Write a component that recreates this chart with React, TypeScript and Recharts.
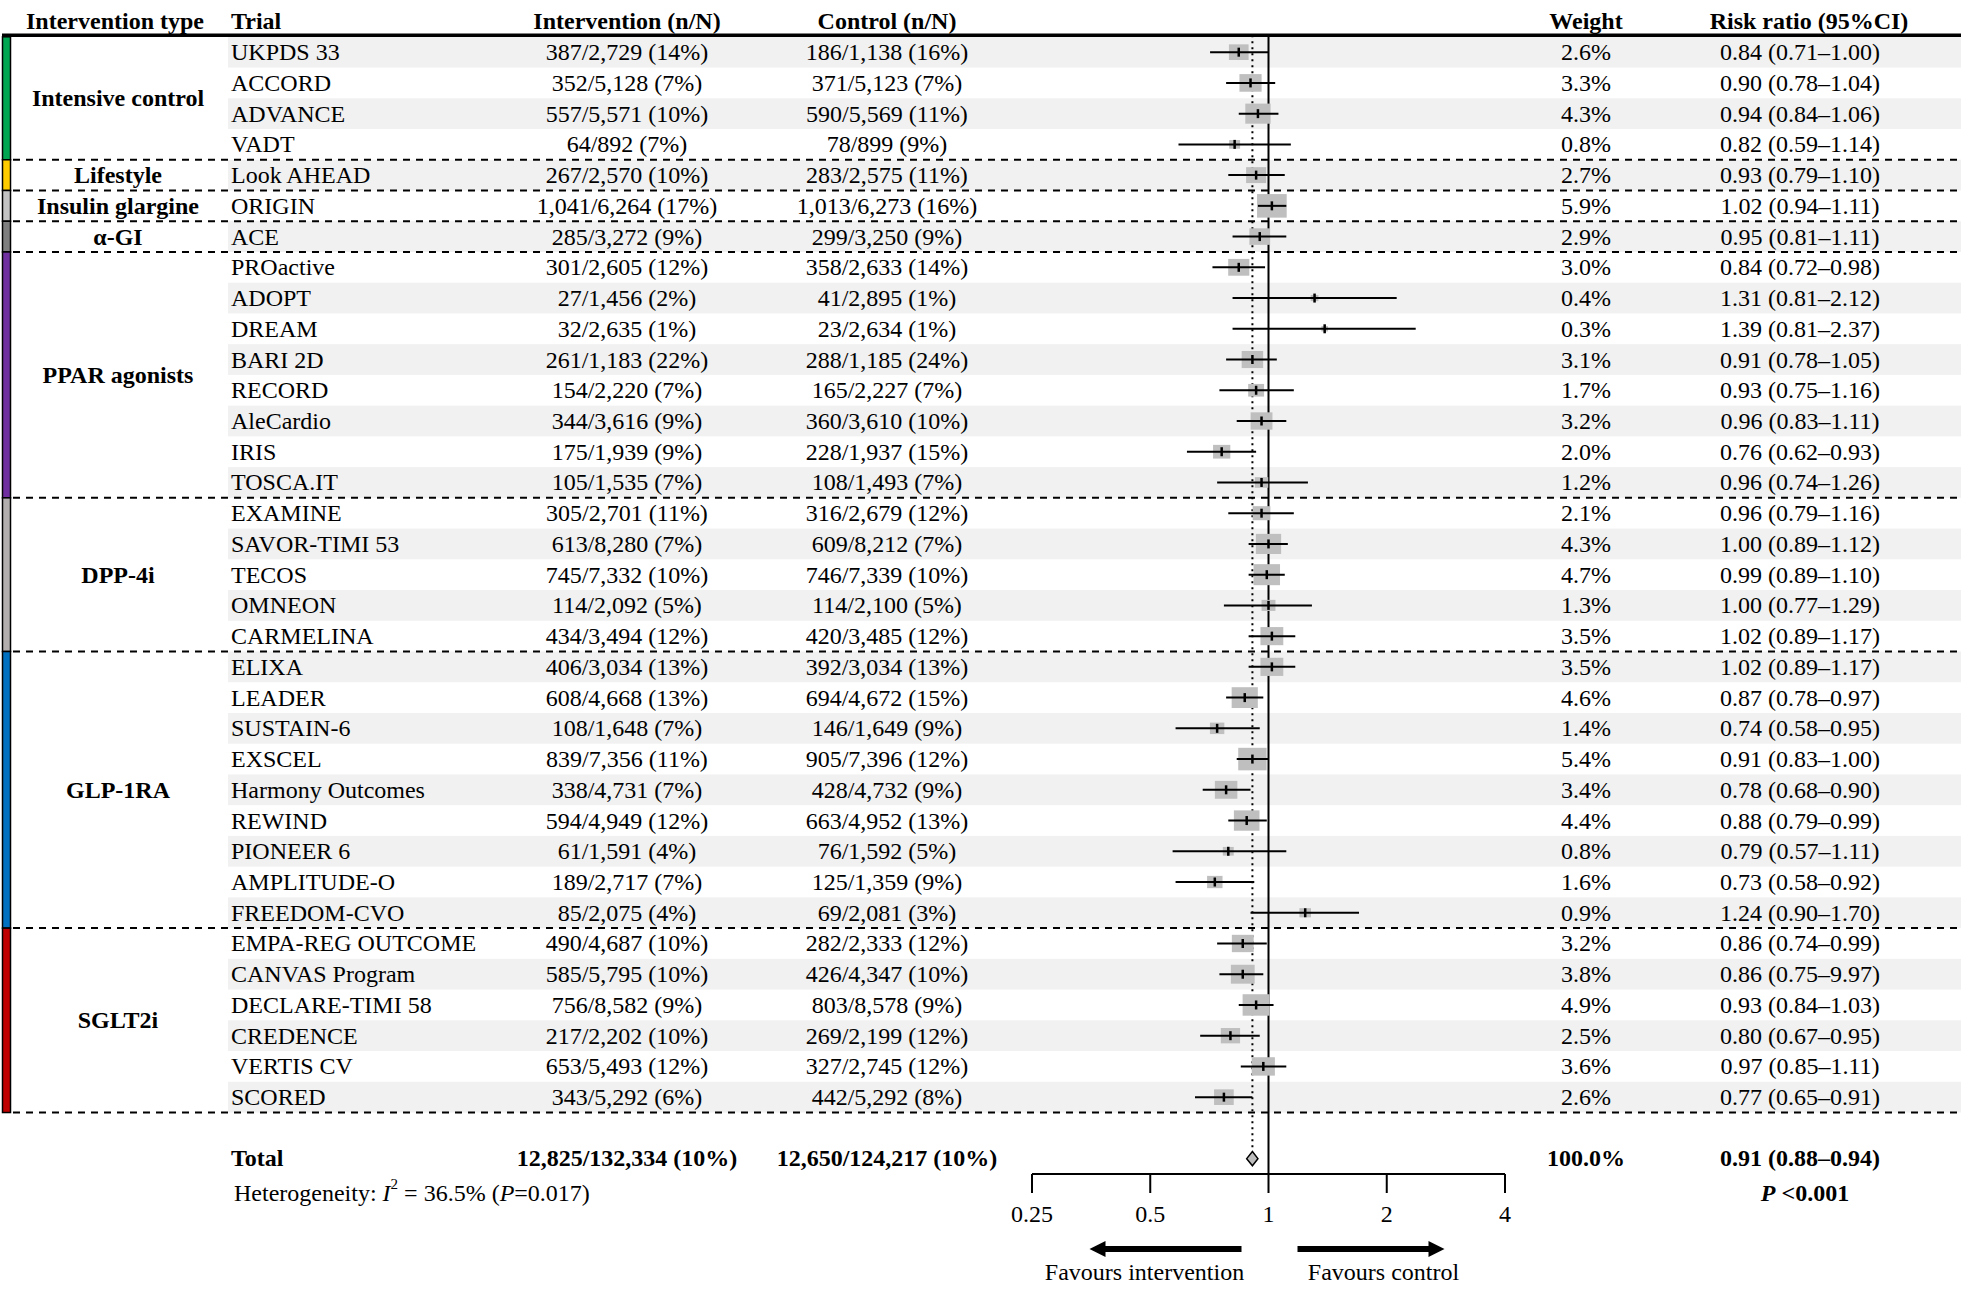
import React from 'react';
import { ComposedChart, Scatter, XAxis, YAxis } from 'recharts';

const FONT = '"Liberation Serif", "Times New Roman", serif';
const W = 1961;
const H = 1303;

const groups = ['Intensive control', 'Lifestyle', 'Insulin glargine', 'α-GI', 'PPAR agonists', 'DPP-4i', 'GLP-1RA', 'SGLT2i'];
const groupSizes = [4, 1, 1, 1, 8, 5, 9, 6];
const groupColors = ['#00a651', '#ffcc00', '#c3c3c3', '#7f7f7f', '#7030a0', '#b3afaf', '#0070c0', '#c00000'];

const trials = [
  'UKPDS 33', 'ACCORD', 'ADVANCE', 'VADT', 'Look AHEAD', 'ORIGIN', 'ACE',
  'PROactive', 'ADOPT', 'DREAM', 'BARI 2D', 'RECORD', 'AleCardio', 'IRIS', 'TOSCA.IT',
  'EXAMINE', 'SAVOR-TIMI 53', 'TECOS', 'OMNEON', 'CARMELINA',
  'ELIXA', 'LEADER', 'SUSTAIN-6', 'EXSCEL', 'Harmony Outcomes', 'REWIND', 'PIONEER 6', 'AMPLITUDE-O', 'FREEDOM-CVO',
  'EMPA-REG OUTCOME', 'CANVAS Program', 'DECLARE-TIMI 58', 'CREDENCE', 'VERTIS CV', 'SCORED',
];
const interventionN = [
  '387/2,729 (14%)', '352/5,128 (7%)', '557/5,571 (10%)', '64/892 (7%)', '267/2,570 (10%)', '1,041/6,264 (17%)', '285/3,272 (9%)',
  '301/2,605 (12%)', '27/1,456 (2%)', '32/2,635 (1%)', '261/1,183 (22%)', '154/2,220 (7%)', '344/3,616 (9%)', '175/1,939 (9%)', '105/1,535 (7%)',
  '305/2,701 (11%)', '613/8,280 (7%)', '745/7,332 (10%)', '114/2,092 (5%)', '434/3,494 (12%)',
  '406/3,034 (13%)', '608/4,668 (13%)', '108/1,648 (7%)', '839/7,356 (11%)', '338/4,731 (7%)', '594/4,949 (12%)', '61/1,591 (4%)', '189/2,717 (7%)', '85/2,075 (4%)',
  '490/4,687 (10%)', '585/5,795 (10%)', '756/8,582 (9%)', '217/2,202 (10%)', '653/5,493 (12%)', '343/5,292 (6%)',
];
const controlN = [
  '186/1,138 (16%)', '371/5,123 (7%)', '590/5,569 (11%)', '78/899 (9%)', '283/2,575 (11%)', '1,013/6,273 (16%)', '299/3,250 (9%)',
  '358/2,633 (14%)', '41/2,895 (1%)', '23/2,634 (1%)', '288/1,185 (24%)', '165/2,227 (7%)', '360/3,610 (10%)', '228/1,937 (15%)', '108/1,493 (7%)',
  '316/2,679 (12%)', '609/8,212 (7%)', '746/7,339 (10%)', '114/2,100 (5%)', '420/3,485 (12%)',
  '392/3,034 (13%)', '694/4,672 (15%)', '146/1,649 (9%)', '905/7,396 (12%)', '428/4,732 (9%)', '663/4,952 (13%)', '76/1,592 (5%)', '125/1,359 (9%)', '69/2,081 (3%)',
  '282/2,333 (12%)', '426/4,347 (10%)', '803/8,578 (9%)', '269/2,199 (12%)', '327/2,745 (12%)', '442/5,292 (8%)',
];
const weights = [
  2.6, 3.3, 4.3, 0.8, 2.7, 5.9, 2.9,
  3.0, 0.4, 0.3, 3.1, 1.7, 3.2, 2.0, 1.2,
  2.1, 4.3, 4.7, 1.3, 3.5,
  3.5, 4.6, 1.4, 5.4, 3.4, 4.4, 0.8, 1.6, 0.9,
  3.2, 3.8, 4.9, 2.5, 3.6, 2.6,
];
const riskRatio = [
  0.84, 0.90, 0.94, 0.82, 0.93, 1.02, 0.95,
  0.84, 1.31, 1.39, 0.91, 0.93, 0.96, 0.76, 0.96,
  0.96, 1.00, 0.99, 1.00, 1.02,
  1.02, 0.87, 0.74, 0.91, 0.78, 0.88, 0.79, 0.73, 1.24,
  0.86, 0.86, 0.93, 0.80, 0.97, 0.77,
];
const ciLow = [
  0.71, 0.78, 0.84, 0.59, 0.79, 0.94, 0.81,
  0.72, 0.81, 0.81, 0.78, 0.75, 0.83, 0.62, 0.74,
  0.79, 0.89, 0.89, 0.77, 0.89,
  0.89, 0.78, 0.58, 0.83, 0.68, 0.79, 0.57, 0.58, 0.90,
  0.74, 0.75, 0.84, 0.67, 0.85, 0.65,
];
// CANVAS is printed as 9.97 in the source table, but plotted ending just below 1
const ciHigh = [
  1.00, 1.04, 1.06, 1.14, 1.10, 1.11, 1.11,
  0.98, 2.12, 2.37, 1.05, 1.16, 1.11, 0.93, 1.26,
  1.16, 1.12, 1.10, 1.29, 1.17,
  1.17, 0.97, 0.95, 1.00, 0.90, 0.99, 1.11, 0.92, 1.70,
  0.99, 0.97, 1.03, 0.95, 1.11, 0.91,
];
const rrLabels = [
  '0.84 (0.71–1.00)', '0.90 (0.78–1.04)', '0.94 (0.84–1.06)', '0.82 (0.59–1.14)', '0.93 (0.79–1.10)', '1.02 (0.94–1.11)', '0.95 (0.81–1.11)',
  '0.84 (0.72–0.98)', '1.31 (0.81–2.12)', '1.39 (0.81–2.37)', '0.91 (0.78–1.05)', '0.93 (0.75–1.16)', '0.96 (0.83–1.11)', '0.76 (0.62–0.93)', '0.96 (0.74–1.26)',
  '0.96 (0.79–1.16)', '1.00 (0.89–1.12)', '0.99 (0.89–1.10)', '1.00 (0.77–1.29)', '1.02 (0.89–1.17)',
  '1.02 (0.89–1.17)', '0.87 (0.78–0.97)', '0.74 (0.58–0.95)', '0.91 (0.83–1.00)', '0.78 (0.68–0.90)', '0.88 (0.79–0.99)', '0.79 (0.57–1.11)', '0.73 (0.58–0.92)', '1.24 (0.90–1.70)',
  '0.86 (0.74–0.99)', '0.86 (0.75–9.97)', '0.93 (0.84–1.03)', '0.80 (0.67–0.95)', '0.97 (0.85–1.11)', '0.77 (0.65–0.91)',
];

const totalLabels = ['Total', '12,825/132,334 (10%)', '12,650/124,217 (10%)', '100.0%', '0.91 (0.88–0.94)'];
const totalRR = 0.91;
const totalLow = 0.88;
const totalHigh = 0.94;
const headers = ['Intervention type', 'Trial', 'Intervention (n/N)', 'Control (n/N)', 'Weight', 'Risk ratio (95%CI)'];
const xTicks = [0.25, 0.5, 1, 2, 4];

// column anchors (px)
const COL_GROUP = 118;
const COL_TRIAL = 231;
const COL_INT = 627;
const COL_CTRL = 887;
const COL_W = 1586;
const COL_RR = 1800;
const STRIPE_LEFT = 228;

const TOTAL_ROW = trials.length + 1;
const HEADER_ROW = -1;
const TOP_RULE = -0.55;

const rows = trials.map((t, i) => ({
  x: riskRatio[i],
  y: i,
  trial: t,
  inter: interventionN[i],
  ctrl: controlN[i],
  w: weights[i],
  rrText: rrLabels[i],
}));

// CI endpoints, two points per trial
const ciData = trials.flatMap((_, i) => [
  { x: ciLow[i], y: i },
  { x: ciHigh[i], y: i },
]);

const groupStarts: number[] = [];
groupSizes.reduce((acc, n) => {
  groupStarts.push(acc);
  return acc + n;
}, 0);

const groupLabelData = groups.map((g, k) => ({ x: 1, y: groupStarts[k] + (groupSizes[k] - 1) / 2, name: g }));
const groupBarData = groupSizes.flatMap((n, k) => [
  { x: 1, y: groupStarts[k] - 0.5 },
  { x: 1, y: groupStarts[k] + n - 0.5 },
]);
const stripeData = trials
  .map((_, i) => i)
  .filter((i) => i % 2 === 0)
  .flatMap((i) => [{ x: 1, y: i - 0.5 }, { x: 1, y: i + 0.5 }]);
const separatorData = [
  { x: 1, y: TOP_RULE, solid: true },
  ...groupSizes.map((n, k) => ({ x: 1, y: groupStarts[k] + n - 0.5, solid: false })),
];
const nullLine = [{ x: 1, y: TOP_RULE }, { x: 1, y: TOTAL_ROW + 0.5 }];
const pooledLine = [{ x: totalRR, y: TOP_RULE }, { x: totalRR, y: TOTAL_ROW - 0.24 }];
const diamondData = [
  { x: totalLow, y: TOTAL_ROW },
  { x: totalRR, y: TOTAL_ROW - 0.23 },
  { x: totalHigh, y: TOTAL_ROW },
  { x: totalRR, y: TOTAL_ROW + 0.23 },
];

const empty = () => <g />;

const txt = { fontFamily: FONT, fontSize: 24, fill: '#000' };

function Stripes(p: any) {
  const pts = p.points || [];
  const out = [];
  for (let k = 0; k + 1 < pts.length; k += 2) {
    out.push(
      <rect key={k} x={STRIPE_LEFT} y={pts[k].y} width={W - STRIPE_LEFT} height={pts[k + 1].y - pts[k].y} fill='#f1f1f1' />
    );
  }
  return <g>{out}</g>;
}

function GroupBars(p: any) {
  const pts = p.points || [];
  const out = [];
  for (let k = 0; k + 1 < pts.length; k += 2) {
    out.push(
      <rect key={k} x={2.5} y={pts[k].y} width={8} height={pts[k + 1].y - pts[k].y} fill={groupColors[k / 2]} stroke='#000' strokeWidth={1.5} />
    );
  }
  return <g>{out}</g>;
}

function CiSegments(p: any) {
  const pts = p.points || [];
  const out = [];
  for (let k = 0; k + 1 < pts.length; k += 2) {
    out.push(
      <line key={k} x1={pts[k].x} x2={pts[k + 1].x} y1={pts[k].y} y2={pts[k + 1].y} stroke='#000' strokeWidth={2} />
    );
  }
  return <g>{out}</g>;
}

function Diamond(p: any) {
  const pts = p.points || [];
  return <polygon points={pts.map((q: any) => `${q.x},${q.y}`).join(' ')} fill='#bdbdbd' stroke='#000' strokeWidth={1.5} />;
}

function Separator(p: any) {
  const solid = p.payload && p.payload.solid;
  return solid ? (
    <line x1={2} x2={W} y1={p.cy} y2={p.cy} stroke='#000' strokeWidth={3.5} />
  ) : (
    <line x1={13} x2={W} y1={p.cy} y2={p.cy} stroke='#000' strokeWidth={2} strokeDasharray='7 6' />
  );
}

function HeaderText(p: any) {
  const y = p.cy;
  return (
    <g {...txt} fontWeight='bold'>
      <text x={COL_GROUP - 3} y={y} textAnchor='middle' dominantBaseline='central'>{headers[0]}</text>
      <text x={COL_TRIAL} y={y} dominantBaseline='central'>{headers[1]}</text>
      <text x={COL_INT} y={y} textAnchor='middle' dominantBaseline='central'>{headers[2]}</text>
      <text x={COL_CTRL} y={y} textAnchor='middle' dominantBaseline='central'>{headers[3]}</text>
      <text x={COL_W} y={y} textAnchor='middle' dominantBaseline='central'>{headers[4]}</text>
      <text x={COL_RR + 9} y={y} textAnchor='middle' dominantBaseline='central'>{headers[5]}</text>
    </g>
  );
}

function RowText(p: any) {
  const d = p.payload;
  const y = p.cy;
  return (
    <g {...txt}>
      <text x={COL_TRIAL} y={y} dominantBaseline='central'>{d.trial}</text>
      <text x={COL_INT} y={y} textAnchor='middle' dominantBaseline='central'>{d.inter}</text>
      <text x={COL_CTRL} y={y} textAnchor='middle' dominantBaseline='central'>{d.ctrl}</text>
      <text x={COL_W} y={y} textAnchor='middle' dominantBaseline='central'>{d.w.toFixed(1)}%</text>
      <text x={COL_RR} y={y} textAnchor='middle' dominantBaseline='central'>{d.rrText}</text>
    </g>
  );
}

function GroupText(p: any) {
  return (
    <text {...txt} fontWeight='bold' x={COL_GROUP} y={p.cy} textAnchor='middle' dominantBaseline='central'>
      {p.payload.name}
    </text>
  );
}

function TotalText(p: any) {
  const y = p.cy - 1;
  return (
    <g {...txt} fontWeight='bold'>
      <text x={COL_TRIAL} y={y} dominantBaseline='central'>{totalLabels[0]}</text>
      <text x={COL_INT} y={y} textAnchor='middle' dominantBaseline='central'>{totalLabels[1]}</text>
      <text x={COL_CTRL} y={y} textAnchor='middle' dominantBaseline='central'>{totalLabels[2]}</text>
      <text x={COL_W} y={y} textAnchor='middle' dominantBaseline='central'>{totalLabels[3]}</text>
      <text x={COL_RR} y={y} textAnchor='middle' dominantBaseline='central'>{totalLabels[4]}</text>
    </g>
  );
}

function WeightSquare(p: any) {
  const s = Math.sqrt(p.payload.w);
  const w = 12.2 * s;
  const h = 9.7 * s;
  return <rect x={p.cx - w / 2} y={p.cy - h / 2} width={w} height={h} fill='#bfbfbf' />;
}

function PointTick(p: any) {
  return <line x1={p.cx} x2={p.cx} y1={p.cy - 4.5} y2={p.cy + 4.5} stroke='#000' strokeWidth={2.5} />;
}

function AxisNotes(props: any) {
  const vb = props.viewBox && props.viewBox.width ? props.viewBox : { x: 1032, y: 1174, width: 473, height: 129 };
  const top = vb.y;
  const one = vb.x + vb.width / 2;
  const ay = top + 75;
  const ty = top + 98;
  const lTip = one - 179;
  const rTip = one + 176;
  return (
    <g {...txt}>
      <text x={234} y={top + 19} dominantBaseline='central'>
        Heterogeneity: <tspan fontStyle='italic'>I</tspan>
        <tspan dy={-9} fontSize={15}>2</tspan>
        <tspan dy={9}> = 36.5% (</tspan>
        <tspan fontStyle='italic'>P</tspan>=0.017)
      </text>
      <text x={1805} y={top + 19} textAnchor='middle' dominantBaseline='central' fontWeight='bold'>
        <tspan fontStyle='italic'>P</tspan>{' <0.001'}
      </text>
      <rect x={lTip + 13} y={ay - 3} width={one - 27 - (lTip + 13)} height={6} fill='#000' />
      <polygon points={`${lTip},${ay} ${lTip + 16},${ay - 8} ${lTip + 16},${ay + 8}`} fill='#000' />
      <rect x={one + 29} y={ay - 3} width={rTip - 13 - (one + 29)} height={6} fill='#000' />
      <polygon points={`${rTip},${ay} ${rTip - 16},${ay - 8} ${rTip - 16},${ay + 8}`} fill='#000' />
      <text x={one - 124} y={ty} textAnchor='middle' dominantBaseline='central'>Favours intervention</text>
      <text x={one + 115} y={ty} textAnchor='middle' dominantBaseline='central'>Favours control</text>
    </g>
  );
}

export default function App() {
  return (
    <div style={{ position: 'absolute', left: 0, top: 0, width: W, height: H, background: '#fff' }}>
      <ComposedChart width={W} height={H} margin={{ top: 3, right: 456, bottom: 0, left: 1032 }}>
        <XAxis
          type='number'
          dataKey='x'
          scale='log'
          domain={[0.25, 4]}
          ticks={xTicks}
          interval={0}
          tickFormatter={(v: number) => String(v)}
          height={129}
          tickSize={19}
          tickMargin={12}
          axisLine={{ stroke: '#000', strokeWidth: 2 }}
          tickLine={{ stroke: '#000', strokeWidth: 2 }}
          tick={{ fontSize: 24, fill: '#000', fontFamily: FONT }}
          label={<AxisNotes />}
        />
        <YAxis type='number' dataKey='y' domain={[-1.6, 36.5]} reversed hide />

        <Scatter data={stripeData} shape={empty} line={Stripes} isAnimationActive={false} />
        <Scatter data={groupBarData} shape={empty} line={GroupBars} isAnimationActive={false} />
        <Scatter data={separatorData} shape={Separator} isAnimationActive={false} />
        <Scatter data={[{ x: 1, y: HEADER_ROW }]} shape={HeaderText} isAnimationActive={false} />
        <Scatter data={groupLabelData} shape={GroupText} isAnimationActive={false} />
        <Scatter data={rows} shape={RowText} isAnimationActive={false} />
        <Scatter data={[{ x: 1, y: TOTAL_ROW }]} shape={TotalText} isAnimationActive={false} />

        <Scatter data={nullLine} shape={empty} line={{ stroke: '#000', strokeWidth: 2 }} isAnimationActive={false} />
        <Scatter data={pooledLine} shape={empty} line={{ stroke: '#000', strokeWidth: 2, strokeDasharray: '2 4' }} isAnimationActive={false} />

        <Scatter data={rows} shape={WeightSquare} isAnimationActive={false} />
        <Scatter data={ciData} shape={empty} line={CiSegments} isAnimationActive={false} />
        <Scatter data={rows} shape={PointTick} isAnimationActive={false} />
        <Scatter data={diamondData} shape={empty} line={Diamond} isAnimationActive={false} />
      </ComposedChart>
    </div>
  );
}
